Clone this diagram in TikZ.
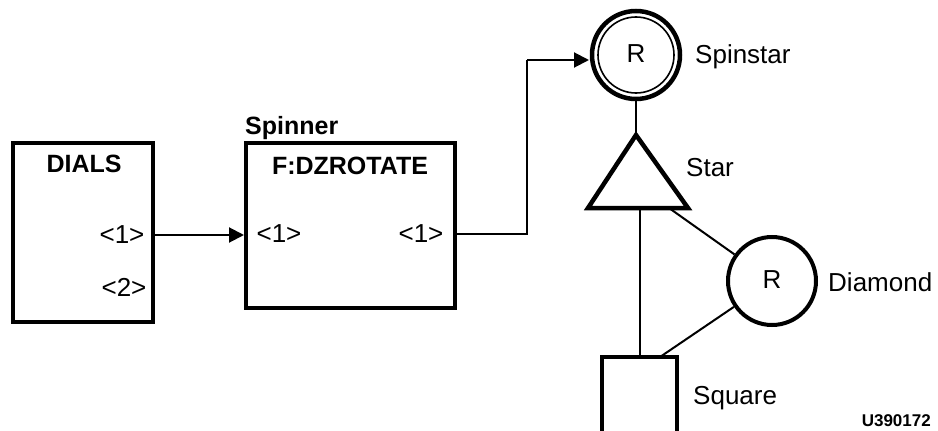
\documentclass[tikz,border=0pt]{standalone}
\usepackage{fontspec}
\setmainfont{Liberation Sans}
\usetikzlibrary{arrows.meta,calc}
\begin{document}
\begin{tikzpicture}[x=1pt,y=-1pt,
  every node/.style={inner sep=0pt,font=\fontsize{26}{30}\selectfont},
  boxnode/.style={draw,line width=4pt,rectangle},
  ringnode/.style={draw,circle,line width=4.5pt,minimum size=88pt},
  wire/.style={line width=2pt},
  arr/.style={wire,-{Triangle[length=15pt,width=15pt]}},
  lbl/.style={anchor=west},
  blbl/.style={font=\fontsize{25}{30}\selectfont\bfseries},
]
\useasboundingbox (0,0) rectangle (938,431);
\clip (0,0) rectangle (938,431);
% DIALS block
\node[boxnode,minimum width=140pt,minimum height=179pt] (dials) at (83,232.5) {};
\node[blbl] (dialst) at (84,164) {DIALS};
\node (d1) at (122,235) {<1>};
\node (d2) at (124,287) {<2>};
% Spinner block
\node[boxnode,minimum width=209pt,minimum height=165pt] (spin) at (350.5,225.5) {};
\node[blbl,anchor=west] (spint) at (245,128) {Spinner};
\node[blbl] (fdz) at (350,166) {F:DZROTATE};
\node (s1) at (279,234) {<1>};
\node (s2) at (421,234) {<1>};
% Spinstar
\node[ringnode] (star0) at (636,55) {};
\node[draw,circle,line width=1.6pt,minimum size=76pt] (starin) at (636,55) {};
\node (r1) at (636,54) {R};
\node[lbl] (spinstart) at (695,57) {Spinstar};
% Star triangle
\coordinate (apex) at (636,135);
\coordinate (bl) at (588,208);
\coordinate (br) at (688,208);
\draw[line width=4.5pt,line join=miter] (apex) -- (br) -- (bl) -- cycle;
\node[lbl] (start) at (686,168) {Star};
% Diamond
\node[ringnode,minimum size=88pt,line width=4pt] (diam) at (772,281) {};
\node (r2) at (772,280) {R};
\node[lbl] (diamt) at (828,282) {Diamond};
% Square
\node[boxnode,minimum width=75pt,minimum height=110pt] (sq) at (639.5,412) {};
\node[lbl] (sqt) at (693,398) {Square};
\node[anchor=east,font=\fontsize{17}{20}\selectfont\bfseries] (code) at (931,421) {U390172};
% connectors
\coordinate (bend) at (527,60);
\coordinate (tbase) at (669,208);
\coordinate (sqtr) at (660,357);
\draw[arr] (dials.east |- d1) -- (spin.west |- d1);
\draw[wire] (spin.east |- s2) -| (bend);
\draw[arr] (bend) -- ($(star0.center)+(-47,5)$);
\draw[wire] (star0.south) -- (apex);
\draw[wire] (sq.north |- bl) -- (sq.north);
\draw[wire] (tbase) -- (diam);
\draw[wire] (diam) -- (sqtr);
\end{tikzpicture}
\end{document}
